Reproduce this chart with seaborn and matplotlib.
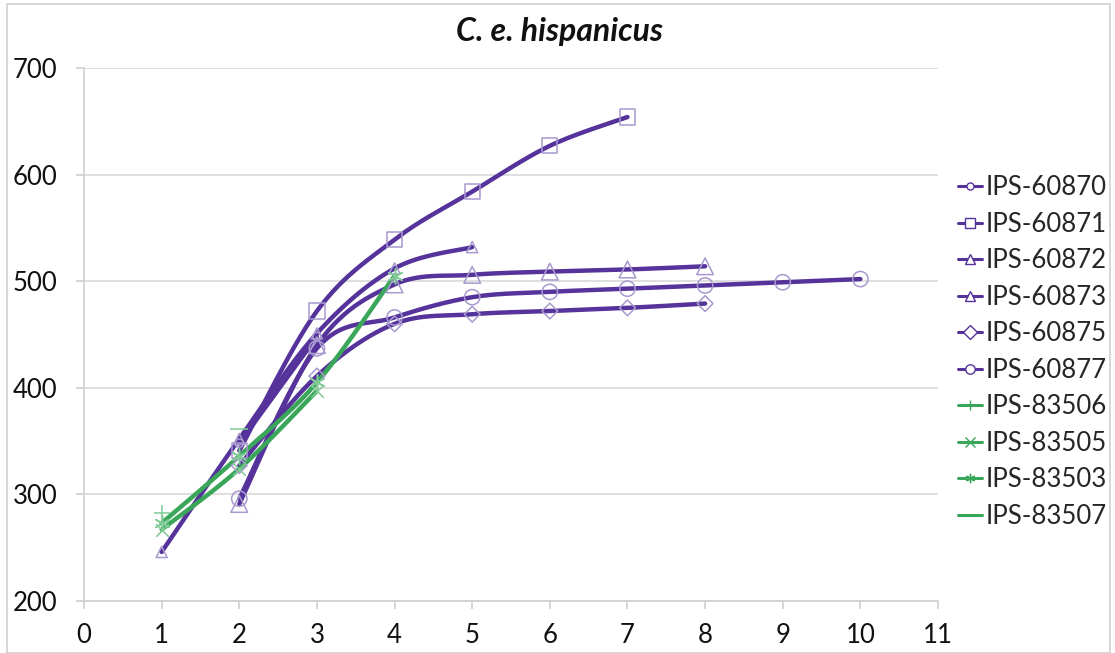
import numpy as np
import pandas as pd
import matplotlib
matplotlib.use("Agg")
import matplotlib.pyplot as plt
from matplotlib.lines import Line2D
from matplotlib.patches import Rectangle
import seaborn as sns

# ---- data: growth series per specimen (x = age class, y = measurement) ----
x_60870 = [2, 3]
y_60870 = [348, 448]
x_60871 = [2, 3, 4, 5, 6, 7]
y_60871 = [341, 472, 539, 584, 627, 654]
x_60872 = [2, 3, 4, 5, 6, 7, 8]
y_60872 = [291, 440, 497, 506, 509, 511, 514]
x_60873 = [1, 2, 3, 4, 5]
y_60873 = [246, 352, 451, 512, 532]
x_60875 = [2, 3, 4, 5, 6, 7, 8]
y_60875 = [327, 411, 460, 469, 472, 475, 479]
x_60877 = [2, 3, 4, 5, 6, 7, 8, 9, 10]
y_60877 = [296, 437, 466, 485, 490, 493, 496, 499, 502]
x_83506 = [1]
y_83506 = [283]
x_83505 = [1, 2, 3]
y_83505 = [267, 324, 397]
x_83503 = [1, 2, 3, 4]
y_83503 = [273, 336, 405, 505]
x_83507 = [2]
y_83507 = [361]

names = ["IPS-60870", "IPS-60871", "IPS-60872", "IPS-60873", "IPS-60875",
         "IPS-60877", "IPS-83506", "IPS-83505", "IPS-83503", "IPS-83507"]
xs = [x_60870, x_60871, x_60872, x_60873, x_60875, x_60877,
      x_83506, x_83505, x_83503, x_83507]
ys = [y_60870, y_60871, y_60872, y_60873, y_60875, y_60877,
      y_83506, y_83505, y_83503, y_83507]

x_ticks = list(range(0, 12))
y_ticks = [200, 300, 400, 500, 600, 700]

PURPLE = "#55339a"
PURPLE_MK = "#a899cf"
GREEN = "#3aa65a"
GREEN_MK = "#7fcb95"

styles = {
    "IPS-60870": dict(c=PURPLE, mc=PURPLE_MK, m="o", ms=6),
    "IPS-60871": dict(c=PURPLE, mc=PURPLE_MK, m="s", ms=11),
    "IPS-60872": dict(c=PURPLE, mc=PURPLE_MK, m="^", ms=12),
    "IPS-60873": dict(c=PURPLE, mc=PURPLE_MK, m="^", ms=8),
    "IPS-60875": dict(c=PURPLE, mc=PURPLE_MK, m="D", ms=8),
    "IPS-60877": dict(c=PURPLE, mc=PURPLE_MK, m="o", ms=11),
    "IPS-83506": dict(c=GREEN, mc=GREEN_MK, m="+", ms=11),
    "IPS-83505": dict(c=GREEN, mc=GREEN_MK, m="x", ms=9),
    "IPS-83503": dict(c=GREEN, mc=GREEN_MK, m=(6, 2, 0), ms=11),
    "IPS-83507": dict(c=GREEN, mc=GREEN_MK, m="_", ms=13),
}
LINE_MARKERS = ("+", "x", "_", (6, 2, 0))


def smooth_path(x, y, n=30):
    """Bezier smoothing through the points (spreadsheet-style smoothed line)."""
    p = np.column_stack([x, y]).astype(float)
    if len(p) < 2:
        return p[:, 0], p[:, 1]
    ext = np.vstack([p[0], p, p[-1]])
    out = []
    t = np.linspace(0, 1, n)[:, None]
    for i in range(len(p) - 1):
        p0, p1, p2, p3 = ext[i], ext[i + 1], ext[i + 2], ext[i + 3]
        c1 = p1 + (p2 - p0) / 6.0
        c2 = p2 - (p3 - p1) / 6.0
        seg = ((1 - t) ** 3) * p1 + 3 * ((1 - t) ** 2) * t * c1 \
            + 3 * (1 - t) * t ** 2 * c2 + t ** 3 * p2
        out.append(seg if i == 0 else seg[1:])
    out = np.vstack(out)
    return out[:, 0], out[:, 1]


sns.set_theme(style="white")
plt.rcParams["font.family"] = ["Lato", "DejaVu Sans"]

fig = plt.figure(figsize=(11.15, 6.53), dpi=100)
ax = fig.add_axes([84 / 1115, 1 - 601 / 653, (938 - 84) / 1115, (601 - 68) / 653])

for name, x, y in zip(names, xs, ys):
    st = styles[name]
    sx, sy = smooth_path(x, y)
    if len(x) > 1:
        curve = pd.DataFrame({"x": sx, "y": sy})
        sns.lineplot(data=curve, x="x", y="y", sort=False, estimator=None,
                     color=st["c"], lw=3.2, ax=ax, zorder=3,
                     solid_capstyle="round")
    pts = pd.DataFrame({"x": x, "y": y})
    filled = st["m"] in LINE_MARKERS
    sns.scatterplot(data=pts, x="x", y="y", marker=st["m"], s=st["ms"] ** 2,
                    facecolor=st["mc"] if filled else "none",
                    edgecolor=st["mc"], linewidth=1.1, ax=ax, zorder=4)

ax.set_xlim(0, 11)
ax.set_ylim(200, 700)
ax.set_xticks(x_ticks)
ax.set_yticks(y_ticks)
ax.set_xlabel("")
ax.set_ylabel("")
ax.grid(axis="y", color="#d9d9d9", lw=1.2)
ax.grid(axis="x", visible=False)
for side in ("top", "right"):
    ax.spines[side].set_visible(False)
for side in ("left", "bottom"):
    ax.spines[side].set_color("#d0d0d0")
    ax.spines[side].set_linewidth(1.2)
ax.tick_params(axis="both", which="major", direction="out", length=6,
               width=1.2, color="#d0d0d0", labelsize=18.5, labelcolor="#111111")
ax.tick_params(axis="y", pad=13, left=True)
ax.tick_params(axis="x", pad=10, bottom=True)

fig.text(0.502, 1 - 31 / 653, "C. e. hispanicus", ha="center", va="center",
         fontsize=23, fontweight="bold", fontstyle="italic", color="#111111")

handles = []
for name in names:
    st = styles[name]
    filled = st["m"] in LINE_MARKERS
    handles.append(Line2D([0], [0], color=st["c"], lw=2.2, marker=st["m"],
                          markersize=min(st["ms"], 8) * 0.85,
                          markerfacecolor=st["mc"] if filled else "white",
                          markeredgecolor=st["c"], markeredgewidth=1.0))
fig.legend(handles, names, loc="center left",
           bbox_to_anchor=(958 / 1115, 1 - 352 / 653), frameon=False,
           fontsize=18.5, handlelength=0.95, handletextpad=0.12,
           labelspacing=0.45, borderaxespad=0, borderpad=0)

fig.patches.append(Rectangle((7 / 1115, 0), 1103 / 1115, 1 - 4 / 653,
                             transform=fig.transFigure, fill=False,
                             edgecolor="#d0d0d0", lw=1.2))

fig.savefig("out.png", dpi=100, facecolor="white")
